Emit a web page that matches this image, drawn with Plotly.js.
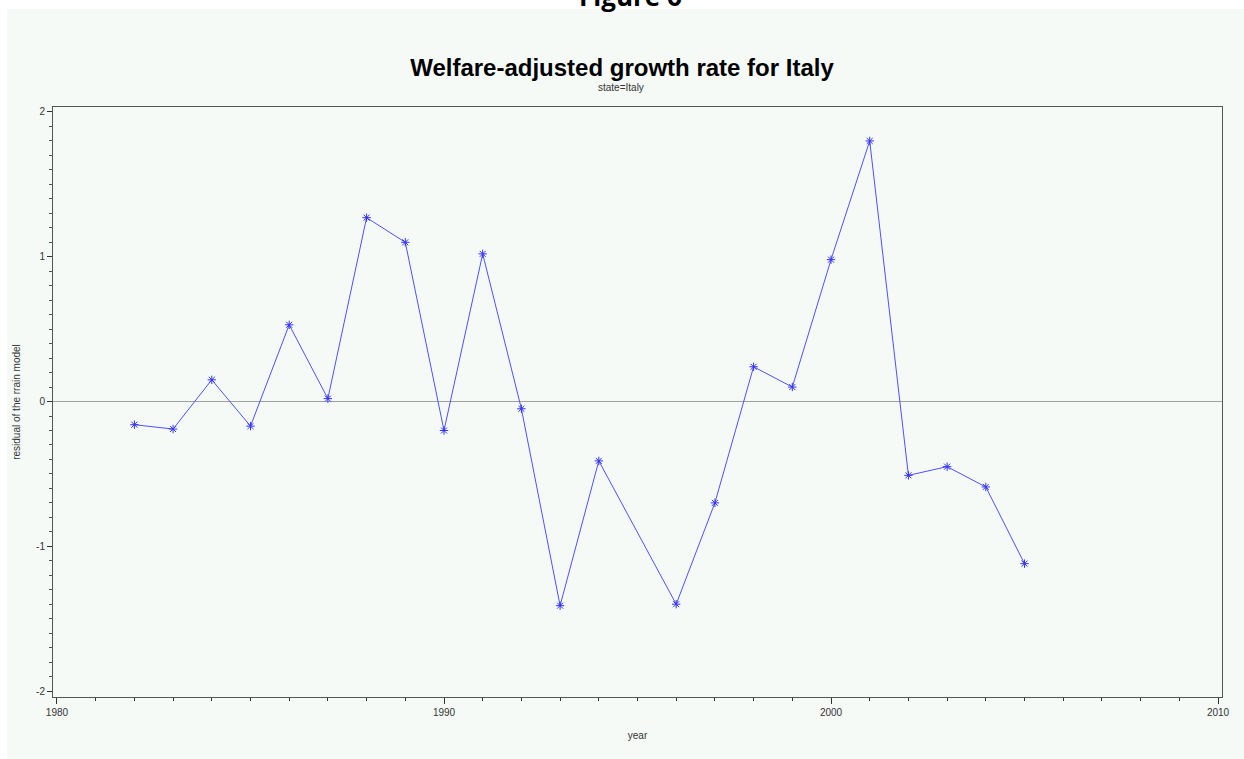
<!DOCTYPE html>
<html>
<head>
<meta charset="utf-8">
<script src="https://cdn.plot.ly/plotly-3.0.1.min.js"></script>
<style>html,body{margin:0;padding:0;background:#f5faf7;overflow:hidden;}#chart{width:1244px;height:759px;}</style>
</head>
<body>
<div id="chart"></div>
<script>
const years = [1982,1983,1984,1985,1986,1987,1988,1989,1990,1991,1992,1993,1994,1996,1997,1998,1999,2000,2001,2002,2003,2004,2005];
const residuals = [-0.16,-0.19,0.15,-0.17,0.53,0.02,1.27,1.10,-0.20,1.02,-0.05,-1.41,-0.41,-1.40,-0.70,0.24,0.10,0.98,1.80,-0.51,-0.45,-0.59,-1.12];
const chartTitle = 'Welfare-adjusted growth rate for Italy';
const subTitle = 'state=Italy';
const figureLabel = 'Figure 6';
const xTicks = [1980,1990,2000,2010];
const yTicks = [-2,-1,0,1,2];

const L=53, R=1244-1222, T=107, B=759-697;
const W=1244-L-R, H=759-T-B;
const px = v => v / W, py = v => v / H;

const trace = {
  x: years, y: residuals, type:'scatter', mode:'lines+markers',
  line:{color:'rgb(80,80,255)', width:1},
  marker:{symbol:'asterisk-open', size:7, line:{color:'rgb(50,50,255)', width:1}, color:'rgb(50,50,255)'},
  hoverinfo:'x+y', cliponaxis:false
};

const tickFont = {family:'Liberation Sans, Arial, sans-serif', size:10, color:'#333'};
const layout = {
  width:1244, height:759,
  margin:{l:L, r:R, t:T, b:B, pad:0},
  paper_bgcolor:'#f5faf7', plot_bgcolor:'rgba(0,0,0,0)',
  showlegend:false,
  title:{text:'<b>'+chartTitle+'</b>', font:{family:'Liberation Sans, Arial, sans-serif', size:24, color:'#000'}, x:0.5, xref:'container', xanchor:'center', y:1-68/759, yanchor:'middle', yref:'container'},
  xaxis:{
    range:[1979.897, 2010.103], tickvals:xTicks, ticktext:xTicks.map(String),
    showgrid:false, zeroline:false, showline:true, linecolor:'#555', linewidth:1, mirror:true,
    ticks:'outside', ticklen:6, tickcolor:'#333', tickwidth:1, tickfont:tickFont,
    minor:{dtick:1, tick0:1980, ticks:'outside', ticklen:3, tickcolor:'#333', showgrid:false},
    title:{text:'year', font:tickFont, standoff:14}
  },
  yaxis:{
    range:[-2.041, 2.0345], tickvals:yTicks, ticktext:yTicks.map(String),
    showgrid:false, zeroline:true, zerolinecolor:'#a0a0a0', zerolinewidth:1,
    showline:true, linecolor:'#555', linewidth:1, mirror:true,
    ticks:'outside', ticklen:5, tickcolor:'#333', tickwidth:1, tickfont:tickFont,
    minor:{dtick:0.1, tick0:0, ticks:'outside', ticklen:3, tickcolor:'#555', showgrid:false},
    title:{text:'residual of the rrain model', font:tickFont, standoff:13}
  },
  shapes:[
    {type:'rect', xref:'paper', yref:'paper', layer:'below',
      x0:px(-10-L), x1:px(1260-L), y0:py(697-9), y1:py(697+10),
      fillcolor:'#ffffff', line:{width:0}},
    {type:'rect', xref:'paper', yref:'paper', layer:'below',
      x0:px(-10-L), x1:px(7-L), y0:py(-100), y1:py(697+10),
      fillcolor:'#ffffff', line:{width:0}}
  ],
  annotations:[
    {text:subTitle, xref:'paper', yref:'paper', x:px(621-L), y:py(697-88), xanchor:'center', yanchor:'middle', showarrow:false, font:{family:'Liberation Sans, Arial, sans-serif', size:10, color:'#333'}},
    {text:'<b>'+figureLabel+'</b>', xref:'paper', yref:'paper', x:px(630-L), y:py(697-16), xanchor:'center', yanchor:'bottom', showarrow:false, font:{family:'Open Sans, sans-serif', size:26, color:'#000'}}
  ]
};
Plotly.newPlot('chart', [trace], layout, {displayModeBar:false, staticPlot:true});
</script>
</body>
</html>
